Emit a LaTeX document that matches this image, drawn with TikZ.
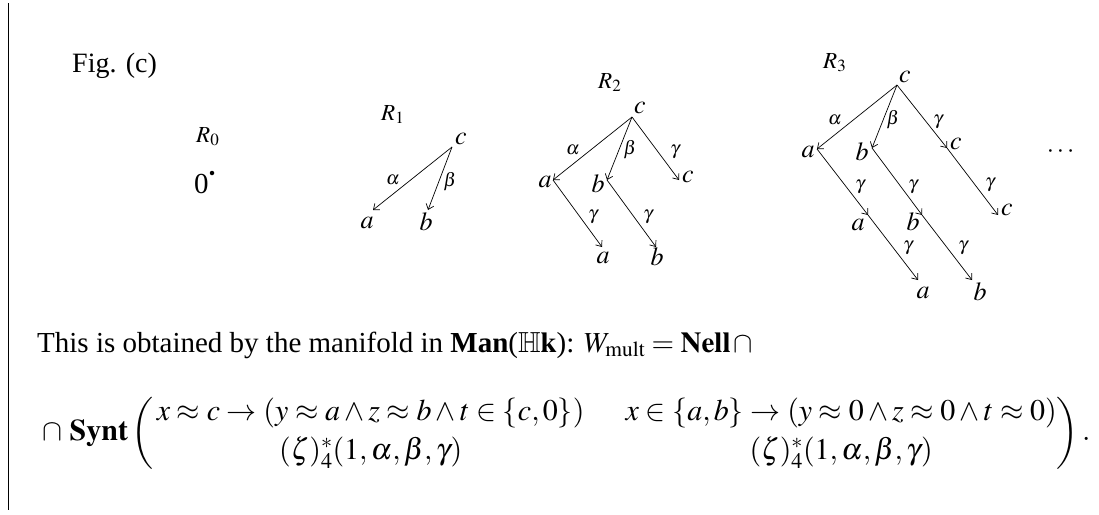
\documentclass[tikz,border=0pt]{standalone}
\usepackage{amsmath,amssymb}
\usepackage{mathptmx}
\usepackage{fontspec}
\setmainfont{Liberation Serif}
\usetikzlibrary{arrows.meta}
\begin{document}
\begin{tikzpicture}[x=1pt,y=-1pt,
  txt/.style={font=\fontsize{29}{35}\selectfont, inner sep=0pt},
  lt/.style={font=\fontsize{26}{31}\selectfont, inner sep=0pt},
  gl/.style={font=\fontsize{19}{23}\selectfont, inner sep=0pt},
  rl/.style={font=\fontsize{23}{28}\selectfont, inner sep=0pt, anchor=base west},
  arr/.style={-{Straight Barb[length=5pt,width=8pt]}, line width=0.7pt}]
\useasboundingbox (0,0) rectangle (1099,514);
\coordinate (ltop) at (8,3);
\coordinate (lbot) at (8,510);
\draw[line width=1pt] (ltop) -- (lbot);

\node[txt,font=\fontsize{28}{34}\selectfont,anchor=base west] (fig) at (72,72) {Fig. (c)};

% R0
\node[rl] (r0) at (196,142) {$R_0$};
\node[txt,font=\fontsize{29}{34}\selectfont,anchor=base west] (zero) at (194,193) {0};
\node[circle,fill,inner sep=0pt,minimum size=4.5pt] (dot) at (212,173) {};

% R1
\node[rl] (r1) at (381,120) {$R_1$};
\coordinate (c1) at (452,147);
\coordinate (a1) at (373,210);
\coordinate (b1) at (428,210);
\node[lt] (c1t) at (461,139) {$c$};
\node[lt] (a1t) at (367,223) {$a$};
\node[lt] (b1t) at (426,222) {$b$};
\draw[arr] (c1) -- (a1);
\draw[arr] (c1) -- (b1);
\node[gl] (al1) at (393,180) {$\alpha$};
\node[gl] (be1) at (450,182) {$\beta$};

% R2
\node[rl] (r2) at (598,88) {$R_2$};
\coordinate (c2) at (632,117);
\coordinate (a2) at (553,180);
\coordinate (b2) at (607,180);
\coordinate (cc2) at (679,180);
\coordinate (aa2) at (602,247);
\coordinate (bb2) at (656,247);
\node[lt] (c2t) at (640,108) {$c$};
\node[lt] (a2t) at (545,182) {$a$};
\node[lt] (b2t) at (598,184) {$b$};
\node[lt] (cc2t) at (688,177) {$c$};
\node[lt] (aa2t) at (603,258) {$a$};
\node[lt] (bb2t) at (657,257) {$b$};
\draw[arr] (c2) -- (a2);
\draw[arr] (c2) -- (b2);
\draw[arr] (c2) -- (cc2);
\draw[arr] (a2) -- (aa2);
\draw[arr] (b2) -- (bb2);
\node[gl] (al2) at (573,150) {$\alpha$};
\node[gl] (be2) at (630,150) {$\beta$};
\node[gl] (ga2) at (675,152) {$\gamma$};
\node[gl] (ga2a) at (593,217) {$\gamma$};
\node[gl] (ga2b) at (648,217) {$\gamma$};

% R3
\node[rl] (r3) at (823,68) {$R_3$};
\coordinate (c3) at (897,85);
\coordinate (a3) at (817,149);
\coordinate (b3) at (872,148);
\coordinate (cc3) at (947,148);
\coordinate (aa3) at (868,215);
\coordinate (bb3) at (922,215);
\coordinate (ccc3) at (998,215);
\coordinate (aaa3) at (918,280);
\coordinate (bbb3) at (972,280);
\node[lt] (c3t) at (905,77) {$c$};
\node[lt] (a3t) at (808,152) {$a$};
\node[lt] (b3t) at (862,152) {$b$};
\node[lt] (cc3t) at (956,144) {$c$};
\node[lt] (aa3t) at (858,225) {$a$};
\node[lt] (bb3t) at (913,222) {$b$};
\node[lt] (ccc3t) at (1007,210) {$c$};
\node[lt] (aaa3t) at (923,293) {$a$};
\node[lt] (bbb3t) at (980,292) {$b$};
\draw[arr] (c3) -- (a3);
\draw[arr] (c3) -- (b3);
\draw[arr] (c3) -- (cc3);
\draw[arr] (a3) -- (aa3);
\draw[arr] (b3) -- (bb3);
\draw[arr] (cc3) -- (ccc3);
\draw[arr] (aa3) -- (aaa3);
\draw[arr] (bb3) -- (bbb3);
\node[gl] (al3) at (835,120) {$\alpha$};
\node[gl] (be3) at (893,120) {$\beta$};
\node[gl] (ga3) at (938,122) {$\gamma$};
\node[gl] (ga3a) at (860,187) {$\gamma$};
\node[gl] (ga3b) at (913,187) {$\gamma$};
\node[gl] (ga3c) at (990,185) {$\gamma$};
\node[gl] (ga3aa) at (908,248) {$\gamma$};
\node[gl] (ga3bb) at (963,248) {$\gamma$};

\node[lt] (dots) at (1062,152) {$\cdots$};

% text
\node[txt,anchor=base west] (line1) at (37,352)
  {This is obtained by the manifold in \textbf{Man}($\mathbb{H}\mathbf{k}$): $W_{\mathrm{mult}} = \mathbf{Nell}\,\cap$};
\node[txt,font=\fontsize{30}{36}\selectfont,anchor=west] (line2) at (42,433)
  {$\cap\ \mathbf{Synt}\left(\begin{array}{@{\,}c@{\hspace{41pt}}c@{}}
    x\approx c\to(y\approx a\wedge z\approx b\wedge t\in\{c,0\}) &
    x\in\{a,b\}\to(y\approx 0\wedge z\approx 0\wedge t\approx 0)\\[3pt]
    (\zeta)^*_4(1,\alpha,\beta,\gamma) & (\zeta)^*_4(1,\alpha,\beta,\gamma)
  \end{array}\right).$};
\end{tikzpicture}
\end{document}
